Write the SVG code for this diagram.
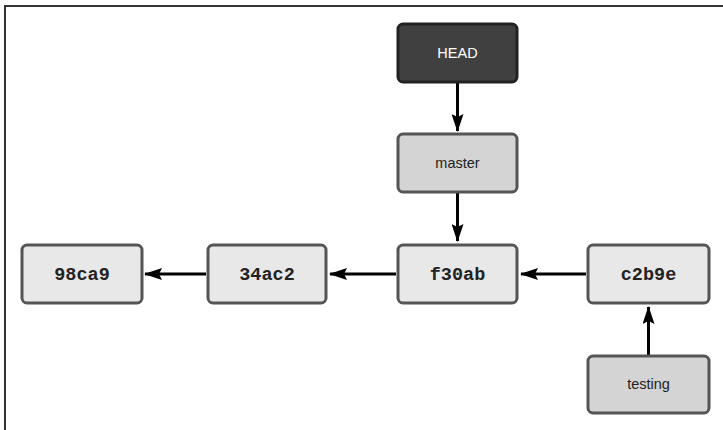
<svg xmlns="http://www.w3.org/2000/svg" width="723" height="430" viewBox="0 0 723 430">
<style>
.node rect{stroke:#555;stroke-width:3}
.commit rect{fill:#e8e8e8}
.branch rect{fill:#d4d4d4}
.head rect{fill:#404040;stroke:#222}
.mono{font-family:"Liberation Mono","DejaVu Sans Mono",monospace;font-size:18.5px;font-weight:bold;fill:#222}
.sans{font-family:"Liberation Sans",Arial,sans-serif;font-size:14.5px;fill:#222}
.conn line{stroke:#000;stroke-width:3}
</style>
<defs>
<marker id="arr" viewBox="0 0 18 12" refX="17" refY="6" markerWidth="18" markerHeight="12" markerUnits="userSpaceOnUse" orient="auto">
<path d="M0,0 L18,6 L0,12 L3,6 Z" fill="#000"/>
</marker>
</defs>
<rect x="0" y="0" width="723" height="430" fill="#fff"/>
<path d="M5,430 V6 H723" fill="none" stroke="#333" stroke-width="2"/>
<g class="conn">
<line x1="457.5" y1="83" x2="457.5" y2="131" marker-end="url(#arr)"/>
<line x1="457.5" y1="193" x2="457.5" y2="241" marker-end="url(#arr)"/>
<line x1="586" y1="274" x2="521" y2="274" marker-end="url(#arr)"/>
<line x1="396" y1="274" x2="330" y2="274" marker-end="url(#arr)"/>
<line x1="206" y1="274" x2="145" y2="274" marker-end="url(#arr)"/>
<line x1="648.5" y1="355" x2="648.5" y2="307" marker-end="url(#arr)"/>
</g>
<g id="HEAD" class="node head">
<rect x="398" y="24" width="119" height="58" rx="5"/>
<text x="457.5" y="58" text-anchor="middle" class="sans" style="fill:#fff">HEAD</text>
</g>
<g id="master" class="node branch">
<rect x="398" y="134" width="119" height="58" rx="5"/>
<text x="457.5" y="168" text-anchor="middle" class="sans">master</text>
</g>
<g id="c98ca9" class="node commit">
<rect x="22" y="245" width="120" height="58" rx="5"/>
<text x="82" y="280" text-anchor="middle" class="mono">98ca9</text>
</g>
<g id="c34ac2" class="node commit">
<rect x="208" y="245" width="118" height="58" rx="5"/>
<text x="267" y="280" text-anchor="middle" class="mono">34ac2</text>
</g>
<g id="cf30ab" class="node commit">
<rect x="398" y="245" width="119" height="58" rx="5"/>
<text x="457.5" y="280" text-anchor="middle" class="mono">f30ab</text>
</g>
<g id="cc2b9e" class="node commit">
<rect x="588" y="245" width="121" height="58" rx="5"/>
<text x="648.5" y="280" text-anchor="middle" class="mono">c2b9e</text>
</g>
<g id="testing" class="node branch">
<rect x="588" y="356" width="121" height="57" rx="5"/>
<text x="648.5" y="389" text-anchor="middle" class="sans">testing</text>
</g>
</svg>
